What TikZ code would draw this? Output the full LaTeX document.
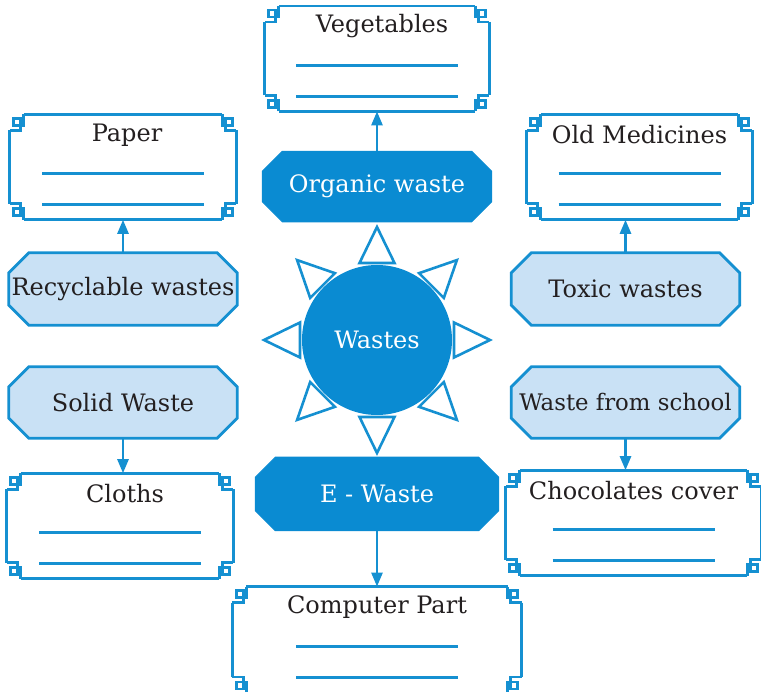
\documentclass[tikz,border=0pt]{standalone}
\usepackage{fontspec}
\setmainfont{DejaVu Serif}
\usepackage{xcolor}
\usepackage{tikz}
\usetikzlibrary{arrows.meta, positioning, backgrounds}
\definecolor{cLine}{HTML}{1590D1}
\definecolor{cDark}{HTML}{0A8BD2}
\definecolor{cLight}{HTML}{C9E1F5}
\definecolor{cText}{HTML}{231F20}
% fret-cornered frame with two blank lines round an answer box
\newcommand{\fretframe}[1]{%
  \draw[frame] ([xshift=14pt]#1.north west) -- ([xshift=-14pt]#1.north east)
    ([yshift=-16pt]#1.north east) -- ([yshift=16pt]#1.south east)
    ([xshift=-14pt]#1.south east) -- ([xshift=14pt]#1.south west)
    ([yshift=16pt]#1.south west) -- ([yshift=-16pt]#1.north west);
  \foreach \c/\sx/\sy in {north west/1/-1, north east/-1/-1, south west/1/1, south east/-1/1}
    \draw[frame, shift={(#1.\c)}, xscale=\sx, yscale=\sy]
      (14,0) -- (14,11) -- (4,11) -- (4,4) -- (11,4) -- (11,16) -- (0,16);
  \draw[blank] ([xshift=-81pt,yshift=-6.5pt]#1.center) -- ++(162pt,0);
  \draw[blank] ([xshift=-81pt,yshift=-37.5pt]#1.center) -- ++(162pt,0);}
% octagon behind a heading node
\newcommand{\octframe}[2]{%
  \begin{scope}[on background layer]
  \draw[#2] ([xshift=20pt]#1.north west) -- ([xshift=-20pt]#1.north east)
    -- ([yshift=-20pt]#1.north east) -- ([yshift=20pt]#1.south east)
    -- ([xshift=-20pt]#1.south east) -- ([xshift=20pt]#1.south west)
    -- ([yshift=20pt]#1.south west) -- ([yshift=-20pt]#1.north west) -- cycle;
  \end{scope}}

\begin{document}
\begin{tikzpicture}[x=1pt, y=1pt,
  every node/.style={font=\fontsize{24}{28}\selectfont, text=cText, inner sep=0pt},
  ansbox/.style={minimum width=#1, minimum height=105pt},
  head/.style={minimum width=228pt, minimum height=72pt},
  dark/.style={fill=cDark, draw=cDark, line width=1pt},
  light/.style={fill=cLight, draw=cLine, line width=2.8pt},
  frame/.style={draw=cLine, line width=2.8pt},
  blank/.style={draw=cLine, line width=3.2pt},
  ray/.style={draw=cLine, fill=white, line width=2.6pt, line join=miter},
  arr/.style={-{Triangle[length=14pt, width=11pt]}, draw=cLine, fill=cLine, line width=2.6pt}]
  \useasboundingbox (0,0) rectangle (761,-692);

  \node[circle, fill=cDark, minimum size=150pt, text=white] (wastes) at (377,-340) {Wastes};
  \foreach \a in {0,45,...,315}
    \draw[ray, shift={(wastes.center)}, rotate=\a] (77,-17.5) -- (113,0) -- (77,17.5) -- cycle;

  \node[head, minimum width=229pt, minimum height=70pt, text=white, above=43pt of wastes] (organic) {Organic waste};
  \node[head, minimum width=243pt, minimum height=73pt, text=white, below=42pt of wastes] (ewaste) {E - Waste};
  \node[head] (recyc) at (123,-289) {Recyclable wastes};
  \node[head] (toxic) at (625.5,-289) {Toxic wastes};
  \node[head, minimum height=71pt] (solid) at (123,-402.5) {Solid Waste};
  \node[head, minimum height=71pt, font=\fontsize{22.8}{26}\selectfont] (school) at (625.5,-402.5) {Waste from school};
  \octframe{organic}{dark}
  \octframe{ewaste}{dark}
  \octframe{recyc}{light}
  \octframe{toxic}{light}
  \octframe{solid}{light}
  \octframe{school}{light}

  \node[ansbox=224pt, above=40pt of organic] (veg) {};
  \node[ansbox=226pt, above=33pt of recyc] (paper) {};
  \node[ansbox=225pt, above=33pt of toxic, xshift=14pt] (oldmed) {};
  \node[ansbox=226pt, below=35pt of solid, xshift=-3pt] (cloths) {};
  \node[ansbox=255pt, below=32pt of school, xshift=8pt] (choc) {};
  \node[ansbox=289pt, minimum height=106pt, below=56pt of ewaste] (comp) {};
  \foreach \b in {veg, paper, oldmed, cloths, choc, comp}
    {\fretframe{\b}}

  \node (vegT) at ([xshift=5pt, yshift=-20.5pt]veg.north) {Vegetables};
  \node (paperT) at ([xshift=4pt, yshift=-20.5pt]paper.north) {Paper};
  \node (oldmedT) at ([yshift=-20.5pt]oldmed.north) {Old Medicines};
  \node (clothsT) at ([xshift=5pt, yshift=-20.5pt]cloths.north) {Cloths};
  \node (chocT) at ([yshift=-20.5pt]choc.north) {Chocolates cover};
  \node (compT) at ([yshift=-20.5pt]comp.north) {Computer Part};

  \draw[arr] (organic.north) -- (organic.north |- veg.south);
  \draw[arr] (recyc.north) -- (recyc.north |- paper.south);
  \draw[arr] (toxic.north) -- (toxic.north |- oldmed.south);
  \draw[arr] (solid.south) -- (solid.south |- cloths.north);
  \draw[arr] (school.south) -- (school.south |- choc.north);
  \draw[arr] (ewaste.south) -- (ewaste.south |- comp.north);
\end{tikzpicture}
\end{document}
